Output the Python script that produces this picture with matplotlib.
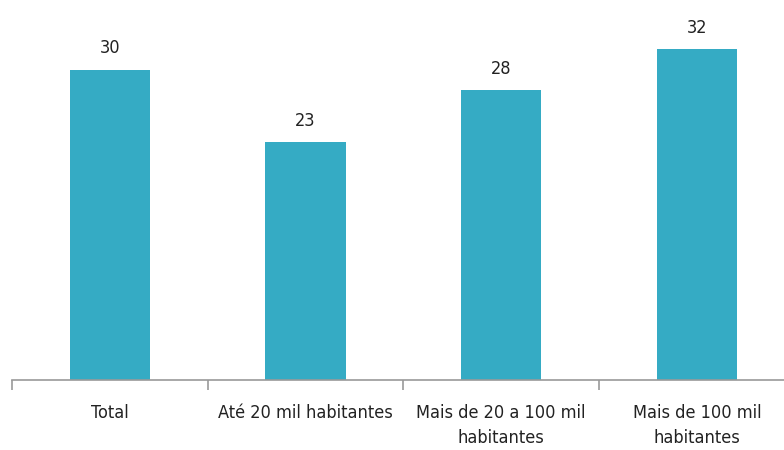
import matplotlib
matplotlib.use('Agg')
import matplotlib.pyplot as plt

categories = ['Total', 'Até 20 mil habitantes', 'Mais de 20 a 100 mil\nhabitantes', 'Mais de 100 mil\nhabitantes']
values = [30, 23, 28, 32]

plt.rcParams['font.family'] = ['DejaVu Sans']
plt.rcParams['font.stretch'] = 'condensed'

fig = plt.figure(figsize=(7.84, 4.5), dpi=100)
ax = fig.add_axes([12 / 784, 1 - 380 / 450, 1 - 12 / 784, 380 / 450])

x = list(range(len(values)))
ax.bar(x, values, width=0.41, color='#35abc4', zorder=2)
for xi, v in zip(x, values):
    ax.annotate(str(v), (xi, v), xytext=(0, 9), textcoords='offset points',
                ha='center', va='bottom', fontsize=13, stretch='condensed', color='#222222')

for side in ['top', 'right', 'left']:
    ax.spines[side].set_visible(False)
ax.spines['bottom'].set_color('#999999')
ax.spines['bottom'].set_linewidth(1.2)
ax.set_yticks([])

# ticks sit on the category boundaries, labels at the centres
ax.set_xticks([-0.5, 0.5, 1.5, 2.5])
ax.set_xticklabels([])
ax.tick_params(axis='x', length=7, width=1.2, color='#999999')
ax.set_xticks(x, minor=True)
ax.set_xticklabels(categories, minor=True, fontsize=13, stretch='condensed',
                   color='#222222', linespacing=1.55, va='top')
ax.tick_params(axis='x', which='minor', length=0, pad=17)

ax.set_xlim(-0.5, 3.445)
ax.set_ylim(0, 36.75)

fig.savefig('out.png', dpi=100)
